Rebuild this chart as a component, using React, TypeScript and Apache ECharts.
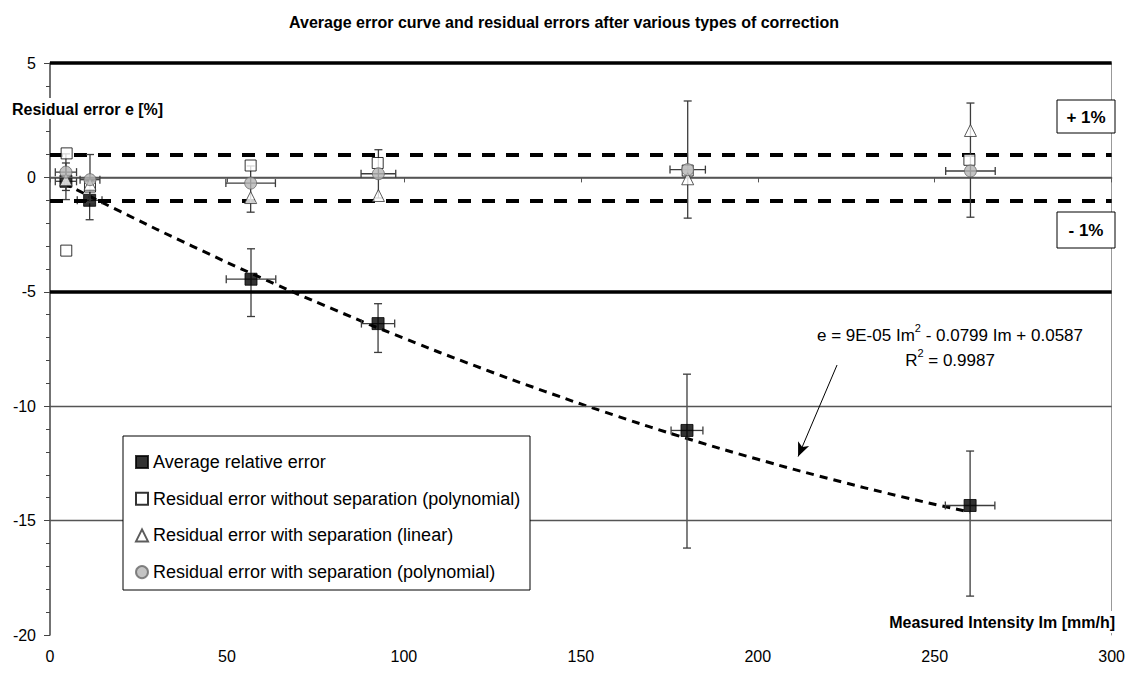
import React, { useEffect, useRef } from "react";
import * as echarts from "echarts";

// ---- data ----
const xTickInterval = 50;
const yTickInterval = 5;

const legendNames = [
  "Average relative error",
  "Residual error without separation (polynomial)",
  "Residual error with separation (linear)",
  "Residual error with separation (polynomial)",
];

// Average relative error (black squares)
const avgX = [4.5, 11.2, 56.8, 92.7, 180.0, 260.0];
const avgY = [-0.17, -1.0, -4.45, -6.39, -11.06, -14.34];
const avgXErr = [3.0, 3.5, 7.0, 4.7, 4.5, 7.0];
const avgYLow = [-0.97, -1.85, -6.08, -7.65, -16.2, -18.3];
const avgYHigh = [0.63, -0.15, -3.12, -5.52, -8.6, -11.96];

// Residual error without separation (polynomial) (white squares)
const noSepX = [4.7, 4.6, 11.3, 56.7, 92.6, 180.2, 259.8];
const noSepY = [1.05, -3.2, -0.4, 0.52, 0.63, 0.3, 0.77];

// Residual error with separation (linear) (white triangles)
const linX = [4.5, 11.3, 56.7, 92.8, 180.2, 260.1];
const linY = [-0.1, -0.3, -0.88, -0.79, -0.06, 2.05];

// Residual error with separation (polynomial) (grey circles)
const polyX = [4.5, 11.3, 56.7, 92.8, 180.2, 260.1];
const polyY = [0.23, -0.1, -0.25, 0.16, 0.34, 0.28];
const polyXErr = [3.0, 2.8, 7.0, 4.9, 5.0, 7.0];
const polyYLow = [-0.57, -1.1, -1.52, -0.9, -1.78, -1.74];
const polyYHigh = [1.03, 1.0, 0.5, 1.21, 3.34, 3.25];

// polynomial trend line
const trendX = [4, 20, 40, 60, 80, 100, 120, 140, 160, 180, 200, 220, 240, 260];
const trendY = [-0.26, -1.5, -2.99, -4.41, -5.76, -7.03, -8.23, -9.36, -10.42, -11.41, -12.32, -13.16, -13.93, -14.63];

// horizontal reference lines
const thickLines = [5, -5];
const thinLines = [0, -10, -15];
const dashedLines = [1, -1];

// arrow from the equation to the trend line
const arrowFrom = [222.4, -8.2];
const arrowTo = [211.4, -12.2];

const NARROW = "'Liberation Sans Narrow', 'Liberation Sans', Arial, sans-serif";
const SANS = "'Liberation Sans', Arial, sans-serif";

function errorBar(params: any, api: any) {
  const x = api.value(0);
  const y = api.value(1);
  const xl = api.value(2);
  const xh = api.value(3);
  const yl = api.value(4);
  const yh = api.value(5);
  const pL = api.coord([xl, y]);
  const pR = api.coord([xh, y]);
  const pB = api.coord([x, yl]);
  const pT = api.coord([x, yh]);
  const cap = 4;
  const style = { stroke: "#3c3c3c", lineWidth: 1.3 };
  const children: any[] = [];
  if (xh > xl) {
    children.push(
      { type: "line", shape: { x1: pL[0], y1: pL[1], x2: pR[0], y2: pR[1] }, style },
      { type: "line", shape: { x1: pL[0], y1: pL[1] - cap, x2: pL[0], y2: pL[1] + cap }, style },
      { type: "line", shape: { x1: pR[0], y1: pR[1] - cap, x2: pR[0], y2: pR[1] + cap }, style }
    );
  }
  if (yh > yl) {
    children.push(
      { type: "line", shape: { x1: pB[0], y1: pB[1], x2: pT[0], y2: pT[1] }, style },
      { type: "line", shape: { x1: pB[0] - cap, y1: pB[1], x2: pB[0] + cap, y2: pB[1] }, style },
      { type: "line", shape: { x1: pT[0] - cap, y1: pT[1], x2: pT[0] + cap, y2: pT[1] }, style }
    );
  }
  return { type: "group", children };
}

export default function App() {
  const ref = useRef<HTMLDivElement>(null);

  useEffect(() => {
    if (!ref.current) return;
    const chart = echarts.init(ref.current, undefined, { renderer: "svg" });

    const avgErrData = avgX.map((x, i) => [x, avgY[i], x - avgXErr[i], x + avgXErr[i], avgYLow[i], avgYHigh[i]]);
    const polyErrData = polyX.map((x, i) => [x, polyY[i], x - polyXErr[i], x + polyXErr[i], polyYLow[i], polyYHigh[i]]);

    const refLineData: any[] = [
      ...thickLines.map((v) => ({ yAxis: v, lineStyle: { color: "#000", width: 3.5, type: "solid" } })),
      ...thinLines.map((v) => ({ yAxis: v, lineStyle: { color: "#555", width: 1.4, type: "solid" } })),
      ...dashedLines.map((v) => ({ yAxis: v, lineStyle: { color: "#000", width: 4, type: [13, 11] } })),
    ];

    const option: any = {
      animation: false,
      backgroundColor: "#fff",
      title: {
        text: "Average error curve and residual errors after various types of correction",
        left: "center",
        top: 9,
        textStyle: { fontSize: 16, fontWeight: "bold", fontFamily: SANS, color: "#000" },
      },
      grid: { left: 50, right: 15, top: 63, bottom: 42 },
      xAxis: {
        type: "value",
        min: 0,
        max: 300,
        interval: xTickInterval,
        axisLine: { show: true, lineStyle: { color: "#555", width: 1.5 } },
        axisTick: { show: true, length: 5, lineStyle: { color: "#555" } },
        axisLabel: { color: "#000", fontSize: 16, fontFamily: NARROW, margin: 13 },
        splitLine: { show: false },
      },
      yAxis: [
        {
          type: "value",
          min: -20,
          max: 5,
          interval: yTickInterval,
          axisLine: { show: true, lineStyle: { color: "#444", width: 1.5 } },
          axisTick: { show: true, length: 6, lineStyle: { color: "#444" } },
          minorTick: { show: true, splitNumber: 5, length: 4, lineStyle: { color: "#444" } },
          axisLabel: { color: "#000", fontSize: 16, fontFamily: NARROW, margin: 14 },
          splitLine: { show: false },
        },
        {
          type: "value",
          position: "right",
          min: -20,
          max: 5,
          interval: yTickInterval,
          axisLine: { show: true, lineStyle: { color: "#999", width: 1 } },
          axisTick: { show: false },
          axisLabel: { show: false },
          splitLine: { show: false },
        },
      ],
      legend: {
        orient: "vertical",
        left: 135,
        top: 452,
        padding: 0,
        itemGap: 16.7,
        itemWidth: 12,
        itemHeight: 12,
        z: 60,
        data: legendNames,
        textStyle: { fontSize: 18, fontFamily: SANS, color: "#000", lineHeight: 20 },
      },
      series: [
        {
          type: "line",
          data: [],
          z: 1,
          silent: true,
          markLine: { silent: true, symbol: ["none", "none"], label: { show: false }, data: refLineData },
        },
        {
          type: "line",
          data: trendX.map((x, i) => [x, trendY[i]]),
          smooth: true,
          showSymbol: false,
          z: 2,
          silent: true,
          lineStyle: { color: "#000", width: 3, type: [8, 6] },
          markLine: {
            silent: true,
            symbol: ["none", "arrow"],
            symbolSize: [9, 14],
            label: { show: false },
            lineStyle: { color: "#000", width: 1, type: "solid" },
            data: [[{ coord: arrowFrom }, { coord: arrowTo }]],
          },
        },
        {
          type: "custom",
          renderItem: errorBar,
          data: avgErrData,
          z: 3,
          silent: true,
          encode: { x: [0, 2, 3], y: [1, 4, 5] },
        },
        {
          name: legendNames[0],
          type: "scatter",
          symbol: "rect",
          symbolSize: 12,
          z: 4,
          itemStyle: { color: "#000", borderColor: "#000", borderWidth: 1 },
          data: avgX.map((x, i) => [x, avgY[i]]),
        },
        {
          type: "custom",
          renderItem: errorBar,
          data: polyErrData,
          z: 5,
          silent: true,
          encode: { x: [0, 2, 3], y: [1, 4, 5] },
        },
        {
          name: legendNames[1],
          type: "scatter",
          symbol: "rect",
          symbolSize: 11,
          z: 6,
          itemStyle: { color: "#fff", borderColor: "#000", borderWidth: 1 },
          data: noSepX.map((x, i) => [x, noSepY[i]]),
        },
        {
          name: legendNames[2],
          type: "scatter",
          symbol: "triangle",
          symbolSize: 12,
          z: 7,
          itemStyle: { color: "#fff", borderColor: "#333", borderWidth: 1 },
          data: linX.map((x, i) => [x, linY[i]]),
        },
        {
          name: legendNames[3],
          type: "scatter",
          symbol: "circle",
          symbolSize: 12,
          z: 8,
          itemStyle: { color: "#b4b4b4", borderColor: "#666", borderWidth: 1 },
          data: polyX.map((x, i) => [x, polyY[i]]),
        },
      ],
      graphic: [
        // legend box
        { type: "rect", z: 50, shape: { x: 123, y: 436, width: 407, height: 154 }, style: { fill: "#fff", stroke: "#000", lineWidth: 1 } },
        // y axis title
        { type: "rect", z: 50, shape: { x: 10, y: 98, width: 172, height: 21 }, style: { fill: "#fff" } },
        { type: "text", z: 51, x: 12, y: 109, style: { text: "Residual error e [%]", fontSize: 16, fontWeight: "bold", fontFamily: SANS, fill: "#000", verticalAlign: "middle" } },
        // x axis title
        { type: "rect", z: 50, shape: { x: 868, y: 611, width: 252, height: 22 }, style: { fill: "#fff" } },
        { type: "text", z: 51, x: 1115, y: 622, style: { text: "Measured Intensity Im [mm/h]", fontSize: 16, fontWeight: "bold", fontFamily: SANS, fill: "#000", align: "right", verticalAlign: "middle" } },
        // +1% / -1% boxes
        { type: "rect", z: 50, shape: { x: 1057, y: 100, width: 58, height: 33 }, style: { fill: "#fff", stroke: "#000", lineWidth: 1 } },
        { type: "text", z: 51, x: 1086, y: 117, style: { text: "+ 1%", fontSize: 17, fontWeight: "bold", fontFamily: SANS, fill: "#000", align: "center", verticalAlign: "middle" } },
        { type: "rect", z: 50, shape: { x: 1057, y: 212, width: 58, height: 36 }, style: { fill: "#fff", stroke: "#000", lineWidth: 1 } },
        { type: "text", z: 51, x: 1086, y: 230, style: { text: "- 1%", fontSize: 17, fontWeight: "bold", fontFamily: SANS, fill: "#000", align: "center", verticalAlign: "middle" } },
        // trend equation
        {
          type: "text",
          z: 51,
          x: 950,
          y: 333,
          style: {
            text: "{n|e = 9E-05 Im}{s|2}{n| - 0.0799 Im + 0.0587}",
            align: "center",
            verticalAlign: "middle",
            fill: "#000",
            rich: {
              n: { fontSize: 17, fontFamily: NARROW, lineHeight: 22, verticalAlign: "bottom" },
              s: { fontSize: 11, fontFamily: NARROW, lineHeight: 22, verticalAlign: "top" },
            },
          },
        },
        {
          type: "text",
          z: 51,
          x: 950,
          y: 358,
          style: {
            text: "{n|R}{s|2}{n| = 0.9987}",
            align: "center",
            verticalAlign: "middle",
            fill: "#000",
            rich: {
              n: { fontSize: 17, fontFamily: NARROW, lineHeight: 22, verticalAlign: "bottom" },
              s: { fontSize: 11, fontFamily: NARROW, lineHeight: 22, verticalAlign: "top" },
            },
          },
        },
      ],
    };

    chart.setOption(option);
    return () => chart.dispose();
  }, []);

  return (
    <div
      ref={ref}
      style={{ position: "fixed", left: 0, top: 0, width: 1128, height: 677, background: "#fff" }}
    />
  );
}
